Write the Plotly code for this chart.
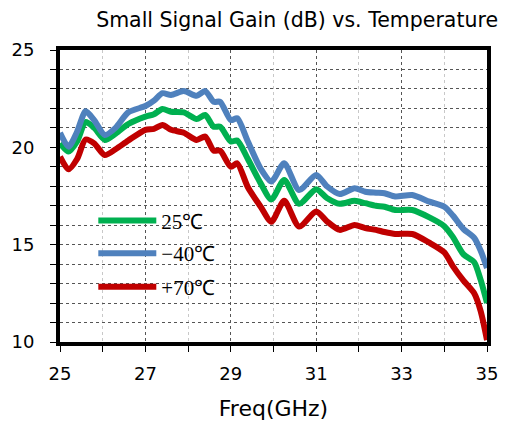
import plotly.graph_objects as go

freq = [25.0, 25.2, 25.4, 25.6, 25.8, 26.05, 26.3, 26.6, 27.0, 27.2, 27.4, 27.6, 27.9,
        28.2, 28.4, 28.6, 28.75, 29.0, 29.15, 29.4, 29.7, 29.95, 30.25, 30.6, 31.0,
        31.25, 31.55, 31.9, 32.15, 32.4, 32.6, 32.85, 33.25, 33.65, 34.0, 34.2, 34.45,
        34.7, 34.85, 35.0]

gain_m40 = [20.75, 20.03, 20.8, 21.85, 21.4, 20.63, 21.0, 21.8, 22.12, 22.4, 22.78, 22.69,
            22.89, 22.65, 22.89, 22.34, 22.34, 21.4, 21.49, 20.3, 18.9, 18.24, 19.18, 17.81,
            18.58, 18.0, 17.6, 17.9, 17.72, 17.67, 17.64, 17.47, 17.55, 17.21, 16.95, 16.5,
            15.8, 15.35, 14.7, 13.8]

gain_25 = [20.21, 19.78, 20.3, 21.3, 21.0, 20.38, 20.7, 21.2, 21.58, 21.7, 21.97, 21.83,
           21.8, 21.45, 21.66, 21.06, 21.06, 20.3, 20.35, 19.4, 18.15, 17.32, 18.32, 17.1,
           17.85, 17.4, 17.1, 17.25, 17.13, 17.0, 16.95, 16.78, 16.78, 16.4, 15.95, 15.4,
           14.5, 14.1, 13.2, 12.0]

gain_70 = [19.52, 18.87, 19.4, 20.4, 20.2, 19.6, 19.9, 20.35, 20.9, 20.95, 21.15, 20.9,
           20.75, 20.38, 20.55, 19.83, 19.83, 19.0, 19.18, 17.95, 16.95, 16.18, 17.25, 15.93,
           16.7, 16.2, 15.76, 16.01, 15.85, 15.76, 15.65, 15.55, 15.55, 15.1, 14.6, 13.9,
           13.15, 12.5, 11.6, 10.1]

series = [
    ("25℃", gain_25, "#00B050", "legend", 0.415),
    ("−40℃", gain_m40, "#4F81BD", "legend2", 0.303),
    ("+70℃", gain_70, "#C00000", "legend3", 0.188),
]

fig = go.Figure()
for name, vals, col, leg, _ in series:
    fig.add_trace(go.Scatter(
        x=freq, y=vals, name=name, mode="lines", legend=leg,
        line=dict(color=col, width=6, shape="spline", smoothing=0.7),
    ))

axis_font = dict(family="DejaVu Sans", size=18, color="#000")
legend_font = dict(family="Liberation Serif", size=21, color="#000")

layout_legends = {}
for name, vals, col, leg, ly in series:
    layout_legends[leg] = dict(x=0.078, y=ly, xanchor="left", yanchor="middle",
                               bgcolor="rgba(0,0,0,0)", itemwidth=58,
                               font=legend_font)

fig.update_layout(
    width=508, height=413,
    margin=dict(l=52, r=29, t=42, b=79),
    paper_bgcolor="white", plot_bgcolor="white",
    title=dict(text="Small Signal Gain (dB) vs. Temperature",
               font=dict(family="DejaVu Sans", size=20.5, color="#000"),
               x=0.9646, xanchor="right", y=0.971, yanchor="middle"),
    showlegend=True,
    **layout_legends,
)

fig.update_xaxes(
    range=[25, 35], tick0=25, dtick=2, tickmode="linear",
    showline=True, linecolor="#000", linewidth=4, mirror=True,
    ticks="outside", ticklen=6, tickwidth=1, tickcolor="#000",
    ticklabelstandoff=6, automargin=False,
    showgrid=True, gridcolor="#555", griddash="dot", gridwidth=1,
    minor=dict(dtick=1, tick0=25, ticks="outside", ticklen=6, tickcolor="#000",
               showgrid=True, gridcolor="#c8c8c8", griddash="dot", gridwidth=1),
    tickfont=axis_font,
    title=dict(text="Freq(GHz)", font=dict(family="DejaVu Sans", size=22, color="#000"),
               standoff=24),
    zeroline=False,
)
fig.update_yaxes(
    range=[10, 25], tick0=10, dtick=5, tickmode="linear",
    showline=True, linecolor="#000", linewidth=4, mirror=True,
    ticks="outside", ticklen=6, tickwidth=1, tickcolor="#000",
    ticklabelstandoff=12, automargin=False,
    showgrid=True, gridcolor="#555", griddash="dot", gridwidth=1,
    minor=dict(dtick=1, tick0=10, ticks="outside", ticklen=6, tickcolor="#000",
               showgrid=True, gridcolor="#555", griddash="dot", gridwidth=1),
    tickfont=axis_font,
    zeroline=False,
)

fig.write_html("out.html")
